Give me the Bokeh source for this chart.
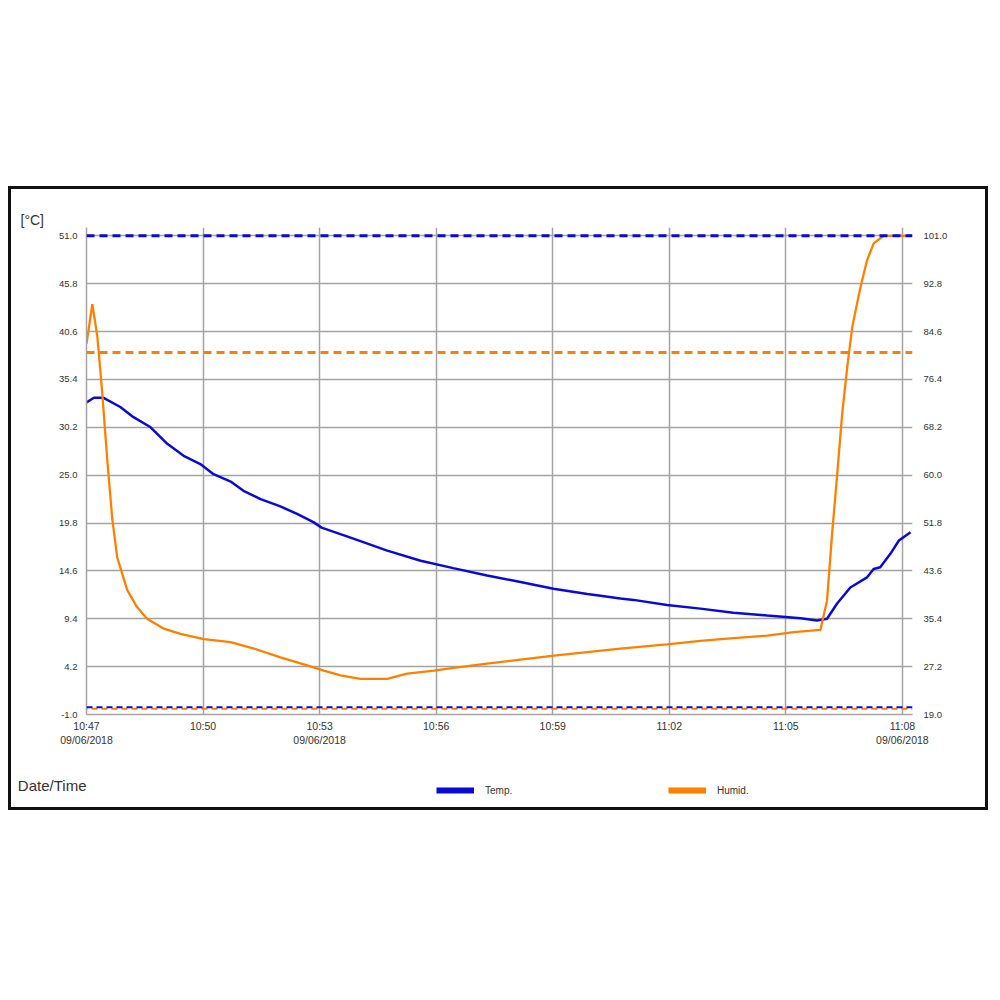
from bokeh.plotting import figure
from bokeh.models import (Range1d, LinearAxis, FixedTicker, Span, Legend, LegendItem,
                          PrintfTickFormatter, Spacer)
from bokeh.layouts import column, row
from bokeh.embed import file_html
from bokeh.resources import INLINE

# ---- data (elapsed minutes since 10:47 on 09/06/2018) ----
temp_min = [0.0, 0.19, 0.44, 0.87, 1.21, 1.65, 2.08, 2.50, 2.93, 3.27, 3.71, 4.04, 4.48,
            4.99, 5.42, 5.84, 6.05, 6.87, 7.74, 8.60, 9.44, 10.31, 11.17, 12.02, 12.89,
            13.23, 13.74, 14.08, 14.94, 15.80, 16.65, 17.52, 18.38, 18.80, 19.06, 19.32,
            19.66, 20.09, 20.26, 20.43, 20.69, 20.91, 21.21]
temp_c = [32.9, 33.4, 33.4, 32.4, 31.3, 30.2, 28.4, 27.1, 26.2, 25.1, 24.3, 23.3, 22.4,
          21.6, 20.8, 19.9, 19.3, 18.1, 16.8, 15.7, 14.9, 14.1, 13.4, 12.65, 12.1,
          11.9, 11.6, 11.45, 10.9, 10.5, 10.05, 9.75, 9.46, 9.2, 9.4, 11.05,
          12.8, 13.9, 14.8, 15.0, 16.45, 17.9, 18.8]

hum_min = [0.0, 0.15, 0.28, 0.40, 0.53, 0.66, 0.79, 1.05, 1.30, 1.56, 1.99, 2.42, 3.02,
           3.71, 4.31, 4.99, 5.68, 6.11, 6.54, 7.05, 7.74, 8.25, 8.94, 9.45, 10.31,
           11.17, 12.03, 12.89, 13.74, 14.94, 15.80, 16.65, 17.52, 18.20, 18.89, 19.06,
           19.19, 19.32, 19.45, 19.58, 19.71, 19.92, 20.09, 20.26, 20.52, 21.21]
hum_rh = [82.5, 89.3, 83.7, 74.5, 63.0, 52.7, 45.9, 40.3, 37.4, 35.4, 33.7, 32.8, 31.9,
          31.4, 30.3, 28.8, 27.4, 26.5, 25.7, 25.1, 25.1, 26.0, 26.5, 27.0, 27.7,
          28.4, 29.1, 29.7, 30.3, 31.0, 31.6, 32.1, 32.5, 33.1, 33.5, 38.5,
          49.9, 60.0, 70.5, 78.5, 85.4, 92.2, 96.8, 99.7, 101.0, 101.0]

temp_limits = [51.0, -0.2]     # alarm limits, deg C
hum_limits = [81.0, 20.0]      # alarm limits, %RH

x_ticks = [0, 3, 6, 9, 12, 15, 18, 21]
x_tick_labels = ["10:47\n09/06/2018", "10:50", "10:53\n09/06/2018", "10:56",
                 "10:59", "11:02", "11:05", "11:08\n09/06/2018"]
temp_ticks = [-1.0, 4.2, 9.4, 14.6, 19.8, 25.0, 30.2, 35.4, 40.6, 45.8, 51.0]
hum_ticks = [19.0, 27.2, 35.4, 43.6, 51.8, 60.0, 68.2, 76.4, 84.6, 92.8, 101.0]
series_names = ["Temp.", "Humid."]
x_title = "Date/Time"
y_unit = "[°C]"

BLUE = "#0a0ad8"
ORANGE = "#ff8000"
GRID = "#a3a3a3"
TXT = "#333333"
FONT = "Liberation Sans"
FRAME = "3px solid #111111"

t_top = 51.9
h_top = 19.0 + (t_top + 1.0) * 82.0 / 52.0


def quiet_ticks(ax):
    ax.major_tick_line_color = None
    ax.minor_tick_line_color = None
    ax.major_tick_out = 0
    ax.major_tick_in = 0
    ax.minor_tick_out = 0
    ax.minor_tick_in = 0


# ---------------- main chart ----------------
p = figure(width=980, height=574, output_backend="svg", toolbar_location=None,
           x_range=Range1d(0, 21.26), y_range=Range1d(-1.0, t_top),
           min_border_left=75, min_border_right=79, min_border_top=38, min_border_bottom=49)
p.styles = {"border": FRAME, "border-bottom": "0px"}
p.outline_line_color = None
p.background_fill_color = "white"
p.border_fill_color = "white"
p.extra_y_ranges = {"hum": Range1d(19.0, h_top)}

p.title.text = y_unit
p.title.align = "left"
p.title.offset = -66
p.title.standoff = 0
p.title.text_font = FONT
p.title.text_font_size = "14px"
p.title.text_font_style = "normal"
p.title.text_color = TXT

p.xgrid.ticker = FixedTicker(ticks=x_ticks)
p.ygrid.ticker = FixedTicker(ticks=temp_ticks)
for g in (p.xgrid, p.ygrid):
    g.grid_line_color = GRID
    g.grid_line_width = 1.5

xa = p.xaxis[0]
xa.ticker = FixedTicker(ticks=x_ticks)
xa.major_label_overrides = {t: s for t, s in zip(x_ticks, x_tick_labels)}
xa.axis_line_color = GRID
xa.axis_line_width = 1.5
quiet_ticks(xa)
xa.major_label_standoff = 5
xa.major_label_text_font = FONT
xa.major_label_text_font_size = "10.5px"
xa.major_label_text_color = TXT

ya = p.yaxis[0]
ya.ticker = FixedTicker(ticks=temp_ticks)
ya.formatter = PrintfTickFormatter(format="%.1f")
ya.axis_line_color = GRID
ya.axis_line_width = 1.5
quiet_ticks(ya)
ya.major_label_standoff = 9
ya.major_label_text_font = FONT
ya.major_label_text_font_size = "9.5px"
ya.major_label_text_color = TXT

ra = LinearAxis(y_range_name="hum", ticker=FixedTicker(ticks=hum_ticks),
                formatter=PrintfTickFormatter(format="%.1f"))
ra.axis_line_color = None
quiet_ticks(ra)
ra.major_label_standoff = 11
ra.major_label_text_font = FONT
ra.major_label_text_font_size = "9.5px"
ra.major_label_text_color = TXT
p.add_layout(ra, "right")

p.add_layout(Span(location=temp_limits[0], dimension="width", line_color=BLUE,
                  line_width=3, line_dash="8 5"))
p.add_layout(Span(location=hum_limits[0], dimension="width", line_color=ORANGE,
                  line_width=3, line_dash="8 5", y_range_name="hum"))
p.add_layout(Span(location=hum_limits[1], dimension="width", line_color=ORANGE,
                  line_width=2, line_dash="6 4", line_dash_offset=5, y_range_name="hum"))
p.add_layout(Span(location=temp_limits[1], dimension="width", line_color=BLUE,
                  line_width=2, line_dash="6 4"))

p.line(temp_min, temp_c, line_color=BLUE, line_width=2.5)
p.line(hum_min, hum_rh, line_color=ORANGE, line_width=2.3, y_range_name="hum")

# ---------------- footer: axis caption + legend ----------------
f = figure(width=980, height=50, output_backend="svg", toolbar_location=None,
           x_range=Range1d(0, 1), y_range=Range1d(0, 1),
           x_axis_type=None, y_axis_type=None,
           min_border_left=75, min_border_right=79, min_border_top=0, min_border_bottom=0)
f.styles = {"border": FRAME, "border-top": "0px"}
f.outline_line_color = None
f.grid.visible = False
f.background_fill_color = "white"
f.border_fill_color = "white"

cap = LinearAxis(ticker=FixedTicker(ticks=[]), axis_label=x_title,
                 axis_label_orientation="horizontal", axis_label_standoff=0,
                 axis_label_text_font=FONT, axis_label_text_font_size="15px",
                 axis_label_text_font_style="normal", axis_label_text_color=TXT,
                 axis_line_color=None)
quiet_ticks(cap)
f.add_layout(cap, "left")

for name, col, loc in ((series_names[0], BLUE, (350, 14)), (series_names[1], ORANGE, (582, 14))):
    sw = f.line(x=[float("nan")], y=[float("nan")], line_color=col, line_width=6)
    f.add_layout(Legend(items=[LegendItem(label=name, renderers=[sw])], location=loc,
                        orientation="horizontal", padding=0, margin=0, spacing=0,
                        glyph_width=38, glyph_height=12, label_height=12,
                        label_standoff=11, label_text_font=FONT, label_text_font_size="10px",
                        label_text_color=TXT, border_line_color=None,
                        background_fill_alpha=0), "center")

layout = column(Spacer(height=186, width=10),
                row(Spacer(width=8, height=10), column(p, f, spacing=0)))
open("out.html", "w").write(file_html(layout, INLINE))
